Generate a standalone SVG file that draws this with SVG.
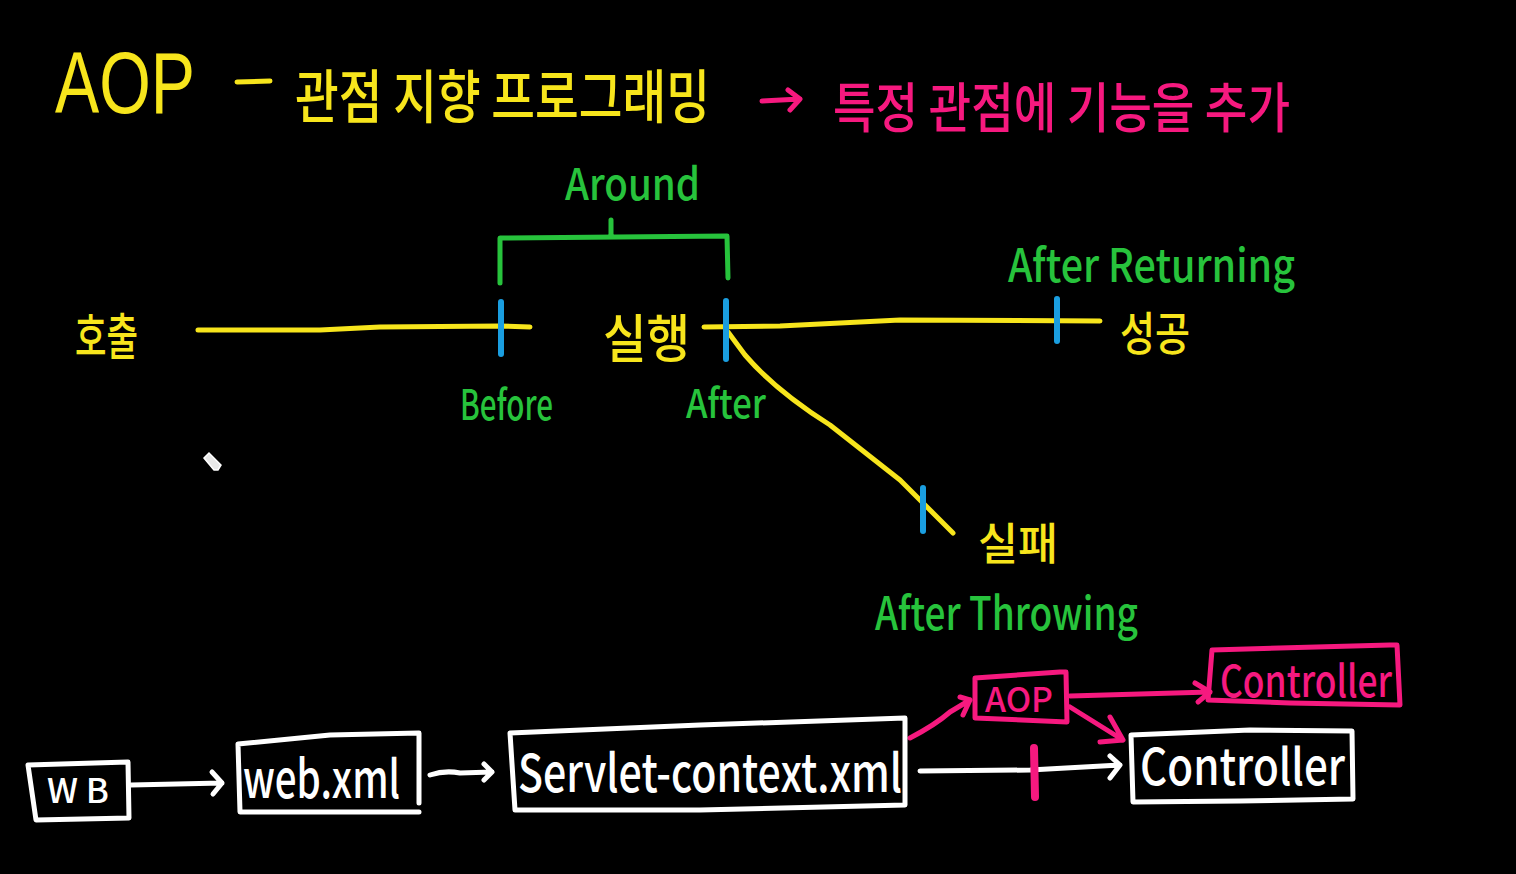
<svg xmlns="http://www.w3.org/2000/svg" width="1516" height="874" viewBox="0 0 1516 874">
<style>
text{font-family:"Noto Sans CJK KR","Liberation Sans",sans-serif;font-weight:500;}
.y{fill:#f7e51c}
.g{fill:#27c33c}
.w{fill:#ffffff}
.p{fill:#f6197f}
.sy{stroke:#f7e51c;fill:none;stroke-width:5;stroke-linecap:round;stroke-linejoin:round}
.sg{stroke:#27c33c;fill:none;stroke-width:5;stroke-linecap:round;stroke-linejoin:round}
.sb{stroke:#1a9ee0;fill:none;stroke-width:6;stroke-linecap:round}
.sw{stroke:#ffffff;fill:none;stroke-width:5;stroke-linecap:round;stroke-linejoin:round}
.sp{stroke:#f6197f;fill:none;stroke-width:5;stroke-linecap:round;stroke-linejoin:round}
</style>
<rect x="0" y="0" width="1516" height="874" fill="#000000"/>

<g id="title">
<text class="y" x="55" y="113" font-size="88" textLength="140" lengthAdjust="spacingAndGlyphs" style="font-family:'Liberation Sans',sans-serif;font-weight:400">AOP</text>
<path class="sy" d="M237 82 L270 81"/>
<text class="y" x="295" y="118" font-size="58" textLength="415" lengthAdjust="spacingAndGlyphs">관점 지향 프로그래밍</text>
</g>

<g id="subtitle">
<path class="sp" d="M762 101 L800 99 M788 90 L800 99 L790 110"/>
<text class="p" x="833" y="128" font-size="54" textLength="457" lengthAdjust="spacingAndGlyphs">특정 관점에 기능을 추가</text>
</g>

<g id="around">
<path class="sg" d="M500 283 L500 238 L727 236 L728 278 M611 220 L611 237"/>
<text class="g" x="565" y="200" font-size="44" textLength="135" lengthAdjust="spacingAndGlyphs">Around</text>
</g>

<g id="call"><text class="y" x="75" y="355" font-size="50" textLength="63" lengthAdjust="spacingAndGlyphs">호출</text></g>
<g id="exec"><text class="y" x="603" y="358" font-size="52" textLength="87" lengthAdjust="spacingAndGlyphs">실행</text></g>
<g id="success"><text class="y" x="1120" y="350" font-size="46" textLength="70" lengthAdjust="spacingAndGlyphs">성공</text></g>
<g id="fail"><text class="y" x="978" y="560" font-size="44" textLength="80" lengthAdjust="spacingAndGlyphs">실패</text></g>

<g id="before"><text class="g" x="460" y="420" font-size="42" textLength="93" lengthAdjust="spacingAndGlyphs">Before</text></g>
<g id="after"><text class="g" x="686" y="418" font-size="40" textLength="80" lengthAdjust="spacingAndGlyphs">After</text></g>
<g id="afterReturning"><text class="g" x="1008" y="282" font-size="46" textLength="287" lengthAdjust="spacingAndGlyphs">After Returning</text></g>
<g id="afterThrowing"><text class="g" x="875" y="630" font-size="46" textLength="263" lengthAdjust="spacingAndGlyphs">After Throwing</text></g>

<g id="connectors">
<path class="sy" d="M198 330 L320 330 L380 327 L500 326 L530 327"/>
<path class="sy" d="M704 327 L780 326 L900 320 L1100 321"/>
<path class="sy" d="M728 332 L745 355 Q775 390 830 425 L900 480 L953 533"/>
<path class="sb" d="M501 302 L501 354"/>
<path class="sb" d="M726 301 L726 359"/>
<path class="sb" d="M1057 299 L1057 341"/>
<path class="sb" d="M923 488 L923 531"/>

<path class="sw" d="M131 785 L222 783 M212 772 L222 783 L213 794"/>
<path class="sw" d="M430 775 Q445 770 460 773 L492 772 M484 764 L492 772 L484 780"/>
<path class="sw" d="M920 771 L1030 770 L1120 765 M1110 756 L1120 765 L1110 778"/>
<path class="sp" d="M1034 748 L1035 797" style="stroke-width:8"/>
<path class="sp" d="M910 738 Q935 725 950 712 L970 700 M960 697 L970 700 L963 715"/>
<path class="sp" d="M1070 696 L1210 692 M1195 683 L1210 692 L1198 702"/>
<path class="sp" d="M1070 707 L1123 740 M1110 717 L1123 740 L1100 742"/>
</g>

<g id="wb">
<path class="sw" d="M28 765 L128 762 L129 818 L36 820 Z"/>
<text class="w" x="47" y="803" font-size="34" textLength="62" lengthAdjust="spacingAndGlyphs">W B</text>
</g>
<g id="webxml">
<path class="sw" d="M238 744 L330 735 L419 733 L419 803 M419 812 L335 812 L240 812 L238 744"/>
<text class="w" x="243" y="798" font-size="52" textLength="157" lengthAdjust="spacingAndGlyphs">web.xml</text>
</g>
<g id="servlet">
<path class="sw" d="M510 733 L700 725 L905 718 L905 805 L700 810 L515 810 Z"/>
<text class="w" x="518" y="792" font-size="52" textLength="384" lengthAdjust="spacingAndGlyphs">Servlet-context.xml</text>
</g>
<g id="controller">
<path class="sw" d="M1131 735 L1250 730 L1352 731 L1353 799 L1240 801 L1133 802 Z"/>
<text class="w" x="1140" y="785" font-size="50" textLength="205" lengthAdjust="spacingAndGlyphs">Controller</text>
</g>
<g id="aop">
<path class="sp" d="M975 678 L1060 672 L1066 672 L1067 722 L975 718 Z"/>
<text class="p" x="985" y="712" font-size="34" textLength="68" lengthAdjust="spacingAndGlyphs">AOP</text>
</g>
<g id="controllerAop">
<path class="sp" d="M1212 650 L1390 645 L1397 645 L1400 705 L1290 703 L1208 700 Z"/>
<text class="p" x="1220" y="697" font-size="44" textLength="172" lengthAdjust="spacingAndGlyphs">Controller</text>
</g>
<g id="cursor">
<path d="M204 458 L209 453 L221 465 L218 470 L214 470 Z" fill="#e8e8e8" stroke="#ffffff" stroke-width="1.5"/>
</g>
</svg>
